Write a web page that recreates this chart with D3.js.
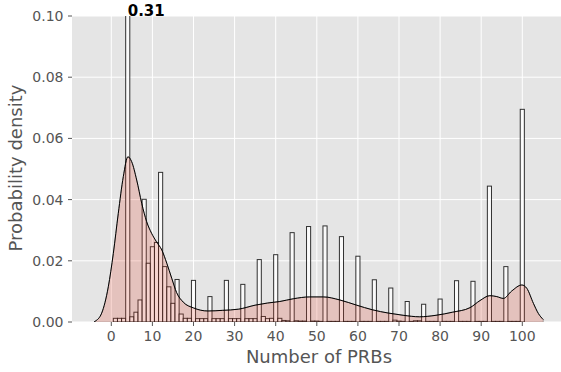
<!DOCTYPE html>
<html>
<head>
<meta charset="utf-8">
<script src="https://cdn.jsdelivr.net/npm/d3@7"></script>
<style>
  body { margin: 0; background: #fff; }
  svg { display: block; font-family: "DejaVu Sans", sans-serif; }
</style>
</head>
<body>
<svg id="chart" width="561" height="372"></svg>
<script>
// ---- data ----
const prbValues = [1,2,3,4,5,6,7,8,9,10,11,12,13,14,15,16,17,18,19,20,
  21,22,23,24,25,26,27,28,29,30,31,32,33,34,35,36,37,38,39,40,
  41,42,43,44,45,46,47,48,49,50,51,52,53,54,55,56,57,58,59,60,
  61,62,63,64,65,66,67,68,69,70,71,72,73,74,75,76,77,78,79,80,
  81,82,83,84,85,86,87,88,89,90,91,92,93,94,95,96,97,98,99,100];
const barDensity = [0.0012,0.0012,0.0012,0.31,0.0017,0.0032,0.0072,0.0401,0.0192,0.0246,
  0.0260,0.0489,0.0181,0.0115,0.0061,0.0139,0.0026,0.0012,0.0012,0.0136,
  0.0011,0.0011,0.0011,0.0083,0.0011,0.0011,0.0011,0.0136,0.0011,0.0011,
  0.0011,0.0123,0.0011,0.0011,0.0011,0.0204,0.0018,0.0011,0.0012,0.0220,
  0.0012,0.0005,0.0004,0.0292,0.0004,0.0003,0.0003,0.0312,0.0003,0.0003,
  0.0002,0.0314,0.0002,0.0002,0.0002,0.0279,0.0002,0.0002,0.0002,0.0215,
  0.0002,0.0002,0.0002,0.0138,0.0002,0.0002,0.0002,0.0111,0.0006,0.0003,
  0.0002,0.0067,0.0002,0.0004,0.0004,0.0058,0.0002,0.0002,0.0002,0.0075,
  0.0002,0.0002,0.0002,0.0135,0.0002,0.0002,0.0002,0.0133,0.0002,0.0002,
  0.0002,0.0444,0.0002,0.0002,0.0002,0.0181,0.0002,0.0002,0.0002,0.0695];
const kdeX = [-4.2,-3.97,-2.34,-0.73,0.49,1.7,2.92,4.05,4.95,6.18,7.4,8.6,9.8,11.0,12.3,13.5,14.7,15.9,
  17.5,20,23.5,27,31,35,38,41,44.3,48.3,51.6,55.6,59.7,63.5,67.5,71,75,79,83,87.3,89.7,
  92.1,93.8,95.4,97.4,99.9,101.1,102.7,103.9,105.1];
const kdeY = [0,0.0002,0.0029,0.0115,0.0224,0.0355,0.0475,0.0540,0.0524,0.0464,0.0388,0.0328,0.0290,0.0262,0.0235,0.0192,0.0143,0.0096,
  0.0065,0.0046,0.0036,0.0038,0.0042,0.0055,0.0062,0.0067,0.0076,0.0082,0.0082,0.0072,0.0055,0.0040,0.0029,0.0022,0.0017,0.0022,0.0032,0.0047,0.0070,
  0.0086,0.0083,0.0077,0.0101,0.0121,0.0110,0.0061,0.0028,0.0008];
const xTicks = [0,10,20,30,40,50,60,70,80,90,100];
const yTicks = [0,0.02,0.04,0.06,0.08,0.10];
const peakLabel = "0.31";
const xLabel = "Number of PRBs";
const yLabel = "Probability density";

// ---- layout ----
const plotLeft = 72, plotRight = 566, plotTop = 16, plotBottom = 322;
const x = d3.scaleLinear().domain([0, 100]).range([111.3, 522.3]);
const y = d3.scaleLinear().domain([0, 0.10]).range([plotBottom, plotTop]);

const svg = d3.select("#chart");
svg.append("defs").append("clipPath").attr("id", "clip")
  .append("rect").attr("x", plotLeft).attr("y", plotTop)
  .attr("width", plotRight - plotLeft).attr("height", plotBottom - plotTop);

svg.append("rect").attr("x", plotLeft).attr("y", plotTop)
  .attr("width", plotRight - plotLeft).attr("height", plotBottom - plotTop)
  .attr("fill", "#E5E5E5");

// grid
const grid = svg.append("g");
grid.selectAll(".vg").data(xTicks).enter().append("line")
  .attr("x1", d => x(d)).attr("x2", d => x(d))
  .attr("y1", plotTop).attr("y2", plotBottom)
  .attr("stroke", "#fff").attr("stroke-width", 1);
grid.selectAll(".hg").data(yTicks).enter().append("line")
  .attr("x1", plotLeft).attr("x2", plotRight)
  .attr("y1", d => y(d)).attr("y2", d => y(d))
  .attr("stroke", "#fff").attr("stroke-width", 1);

const plot = svg.append("g").attr("clip-path", "url(#clip)");

// bars
const bars = prbValues.map((v, i) => ({v, d: barDensity[i]}));
plot.selectAll(".bar").data(bars).enter().append("rect")
  .attr("x", d => x(d.v - 0.5))
  .attr("width", d => x(d.v + 0.5) - x(d.v - 0.5))
  .attr("y", d => y(d.d))
  .attr("height", d => y(0) - y(d.d))
  .attr("fill", "#fff").attr("fill-opacity", 0.8)
  .attr("stroke", "#000").attr("stroke-opacity", 0.8).attr("stroke-width", 1);

// kde
const kde = kdeX.map((v, i) => [v, kdeY[i]]);
const area = d3.area().x(d => x(d[0])).y0(y(0)).y1(d => y(d[1])).curve(d3.curveMonotoneX);
const line = d3.line().x(d => x(d[0])).y(d => y(d[1])).curve(d3.curveMonotoneX);
plot.append("path").datum(kde).attr("d", area)
  .attr("fill", "#E24A33").attr("fill-opacity", 0.22)
  .attr("stroke", "#000").attr("stroke-opacity", 0.25).attr("stroke-width", 1);
plot.append("path").datum(kde).attr("d", line)
  .attr("fill", "none").attr("stroke", "#000").attr("stroke-width", 1);

// axes
const axisColor = "#555";
const xt = svg.append("g");
xt.selectAll("line").data(xTicks).enter().append("line")
  .attr("x1", d => x(d)).attr("x2", d => x(d))
  .attr("y1", plotBottom).attr("y2", plotBottom + 4)
  .attr("stroke", axisColor).attr("stroke-width", 1);
xt.selectAll("text").data(xTicks).enter().append("text")
  .attr("x", d => x(d)).attr("y", 341)
  .attr("text-anchor", "middle").attr("font-size", 14).attr("fill", axisColor)
  .text(d => d);

const yt = svg.append("g");
yt.selectAll("line").data(yTicks).enter().append("line")
  .attr("x1", plotLeft - 4).attr("x2", plotLeft)
  .attr("y1", d => y(d)).attr("y2", d => y(d))
  .attr("stroke", axisColor).attr("stroke-width", 1);
yt.selectAll("text").data(yTicks).enter().append("text")
  .attr("x", 63.5).attr("y", d => y(d) + 5)
  .attr("text-anchor", "end").attr("font-size", 14).attr("fill", axisColor)
  .text(d => d3.format(".2f")(d));

svg.append("text").attr("x", 319).attr("y", 363)
  .attr("text-anchor", "middle").attr("font-size", 18).attr("fill", axisColor)
  .text(xLabel);
svg.append("text").attr("transform", "translate(22,168) rotate(-90)")
  .attr("text-anchor", "middle").attr("font-size", 18).attr("fill", axisColor)
  .text(yLabel);

// peak label
svg.append("text").attr("x", x(4)).attr("y", 16)
  .attr("text-anchor", "start").attr("font-size", 15).attr("font-weight", "bold")
  .attr("fill", "#000").text(peakLabel);
</script>
</body>
</html>
